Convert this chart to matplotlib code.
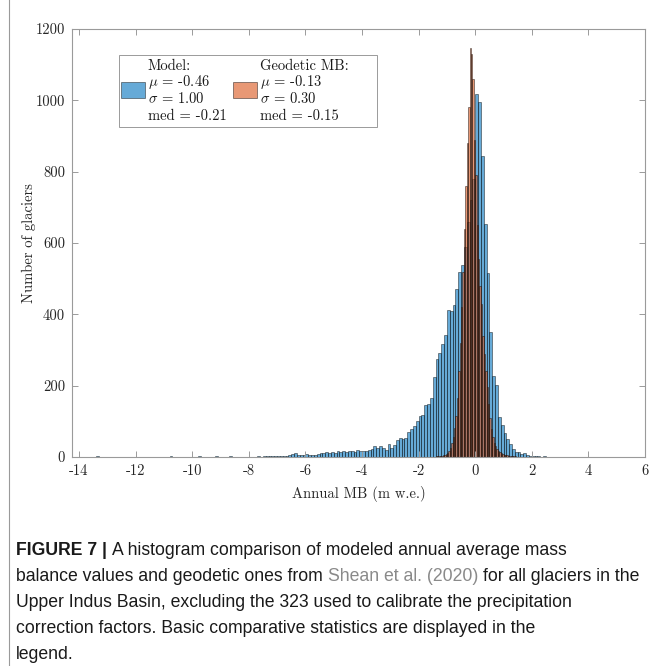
import numpy as np
import matplotlib
matplotlib.use("Agg")
import matplotlib.pyplot as plt
from matplotlib.patches import Rectangle
from matplotlib.lines import Line2D

# ---- data ----
# modeled annual MB, 0.1 m w.e. bins, left edges start at -8.0
model_start = -8.0
model_width = 0.1
model_counts = [
    0, 1, 0, 2, 0, 3, 2, 4, 3, 2,            # -8.0 .. -7.1
    4, 3, 2, 4, 5, 9, 11, 7, 5, 6,           # -7.0 .. -6.1
    8, 6, 7, 5, 8, 11, 10, 13, 11, 14,       # -6.0 .. -5.1
    12, 16, 14, 17, 15, 16, 18, 15, 19, 18,  # -5.0 .. -4.1
    18, 18, 20, 22, 30, 26, 30, 26, 20, 36,  # -4.0 .. -3.1
    24, 34, 47, 52, 51, 52, 69, 78, 88, 101, # -3.0 .. -2.1
    115, 117, 146, 149, 165, 223, 275, 291, 316, 342,  # -2.0 .. -1.1
    412, 409, 426, 470, 520, 538, 590, 660, 720, 780,  # -1.0 .. -0.1
    1017, 995, 845, 652, 517, 351, 227, 202, 113, 90,  # 0.0 .. 0.9
    66, 50, 37, 22, 14, 14, 8, 12, 6, 4,     # 1.0 .. 1.9
    3, 2, 3, 1, 2,                           # 2.0 .. 2.4
]
# isolated outliers far in the tails (left edge, count)
model_tail_left = [-13.4, -12.0, -11.1, -10.8, -10.0, -9.8, -9.4, -9.2,
                   -8.9, -8.7, -8.4, 2.6, 2.9, 4.1, 5.1]
model_tail_counts = [2, 1, 1, 2, 1, 2, 1, 2, 1, 2, 1, 1, 1, 1, 1]

# geodetic MB (Shean et al. 2020), 0.05 m w.e. bins, left edges start at -1.5
geod_start = -1.5
geod_width = 0.05
geod_counts = [
    1, 1, 2, 2, 3, 3, 4, 5, 6, 8,                 # -1.50 .. -1.05
    12, 18, 26, 38, 55, 80, 115, 165, 240, 320,   # -1.00 .. -0.55
    420, 520, 640, 760, 880, 980, 1146, 1130, 1060, 890,  # -0.50 .. -0.05
    790, 650, 555, 480, 430, 340, 290, 240, 195, 150,     # 0.00 .. 0.45
    110, 78, 55, 40, 30, 22, 17, 13, 10, 8,       # 0.50 .. 0.95
    7, 5, 5, 4, 3, 3, 2, 2, 2, 1, 1, 1, 1, 1,     # 1.00 .. 1.65
]

model_stats = ["Model:", r"$\mu$ = -0.46", r"$\sigma$ = 1.00", "med = -0.21"]
geod_stats = ["Geodetic MB:", r"$\mu$ = -0.13", r"$\sigma$ = 0.30", "med = -0.15"]

x_ticks = [-14, -12, -10, -8, -6, -4, -2, 0, 2, 4, 6]
y_ticks = [0, 200, 400, 600, 800, 1000, 1200]

caption_lines = [
    [("FIGURE 7 |", "bold", "#1a1a1a"), ("A histogram comparison of modeled annual average mass", "normal", "#1a1a1a")],
    [("balance values and geodetic ones from", "normal", "#1a1a1a"), ("Shean et al. (2020)", "normal", "#8a8a8a"),
     ("for all glaciers in the", "normal", "#1a1a1a")],
    [("Upper Indus Basin, excluding the 323 used to calibrate the precipitation", "normal", "#1a1a1a")],
    [("correction factors. Basic comparative statistics are displayed in the", "normal", "#1a1a1a")],
    [("legend.", "normal", "#1a1a1a")],
]

# MATLAB default colours
blue = (0.0, 0.447, 0.741)
orange = (0.85, 0.325, 0.098)
axis_grey = "#9a9a9a"

W, H = 652, 666
plt.rcParams["font.family"] = "cmr10"
plt.rcParams["mathtext.fontset"] = "cm"
plt.rcParams["axes.unicode_minus"] = False
plt.rcParams["axes.formatter.use_mathtext"] = True

fig = plt.figure(figsize=(W / 100, H / 100), dpi=100)
ax_l, ax_r, ax_t, ax_b = 72, 645, 29, 457
ax = fig.add_axes([ax_l / W, 1 - ax_b / H, (ax_r - ax_l) / W, (ax_b - ax_t) / H])

model_left = model_start + model_width * np.arange(len(model_counts))
geod_left = geod_start + geod_width * np.arange(len(geod_counts))

bar_kw = dict(align="edge", edgecolor="black", linewidth=0.5)
ax.bar(model_left, model_counts, width=model_width, color=blue, alpha=0.6, **bar_kw)
ax.bar(model_tail_left, model_tail_counts, width=model_width, color=blue, alpha=0.6, **bar_kw)
ax.bar(geod_left, geod_counts, width=geod_width, color=orange, alpha=0.6, **bar_kw)

ax.set_xlim(-14.25, 6)
ax.set_ylim(0, 1200)
ax.set_xticks(x_ticks)
ax.set_yticks(y_ticks)
ax.set_xticklabels([str(v) for v in x_ticks])
ax.set_yticklabels([str(v) for v in y_ticks])
ax.tick_params(direction="in", top=True, right=True, length=4, width=0.7,
               color=axis_grey, labelsize=10.5, labelcolor="#262626", pad=5)
for s in ax.spines.values():
    s.set_color(axis_grey)
    s.set_linewidth(0.8)
ax.set_xlabel("Annual MB (m w.e.)", fontsize=10.5, color="#262626", labelpad=6)
ax.set_ylabel("Number of glaciers", fontsize=10.5, color="#262626", labelpad=0)

# legend drawn by hand so the patches sit centred on the 4-line labels
def ax_xy(px, py):
    return (px - ax_l) / (ax_r - ax_l), 1 - (py - ax_t) / (ax_b - ax_t)

x0, y0 = ax_xy(119, 127)
x1, y1 = ax_xy(377, 55)
ax.add_patch(Rectangle((x0, y0), x1 - x0, y1 - y0, transform=ax.transAxes,
                       facecolor="white", edgecolor=axis_grey, linewidth=0.7, zorder=5))
for patch_x, text_x, col, lines in [(121, 148, blue, model_stats), (233, 260, orange, geod_stats)]:
    px0, py0 = ax_xy(patch_x, 98)
    px1, py1 = ax_xy(patch_x + 24, 82)
    ax.add_patch(Rectangle((px0, py0), px1 - px0, py1 - py0, transform=ax.transAxes,
                           facecolor=col, alpha=0.6, edgecolor="black", linewidth=0.5, zorder=6))
    for i, line in enumerate(lines):
        tx, ty = ax_xy(text_x, 69.5 + 16.8 * i)
        ax.text(tx, ty, line, transform=ax.transAxes, fontsize=10.5, va="baseline",
                ha="left", color="#1a1a1a", zorder=7)

# figure frame line on the left
fig.add_artist(Line2D([8.5 / W, 8.5 / W], [0, 1], transform=fig.transFigure,
                      color="#9a9a9a", linewidth=0.8))

# caption
cap_font = "Liberation Sans"
cap_size = 12.7
renderer = fig.canvas.get_renderer()
probe = fig.text(0, 0, "x x", family=cap_font, fontsize=cap_size)
probe2 = fig.text(0, 0, "xx", family=cap_font, fontsize=cap_size)
space_w = probe.get_window_extent(renderer).width - probe2.get_window_extent(renderer).width
probe.remove()
probe2.remove()
for i, parts in enumerate(caption_lines):
    x = 16
    y = 555 + 26 * i
    for text, weight, col in parts:
        t = fig.text(x / W, 1 - y / H, text, family=cap_font, fontsize=cap_size,
                     fontweight=weight, color=col, va="baseline", ha="left")
        x += t.get_window_extent(renderer).width + space_w

fig.savefig("out.png", dpi=100)
